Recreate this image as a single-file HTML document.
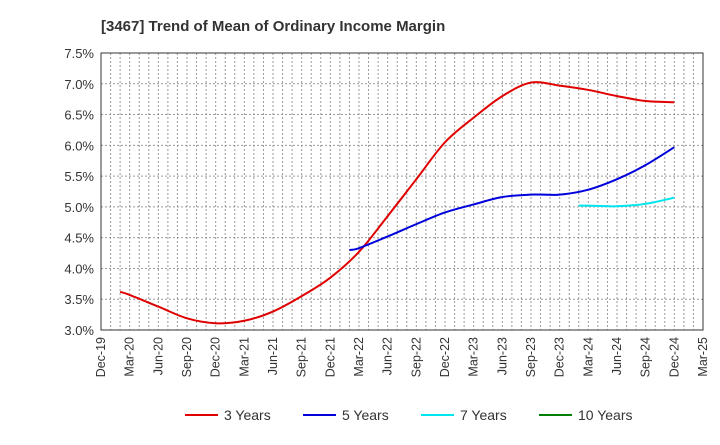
<!DOCTYPE html>
<html><head><meta charset="utf-8"><style>
body{margin:0;background:#fff;font-family:"Liberation Sans",Arial,sans-serif}
</style></head><body>
<svg id="c" width="720" height="440" xmlns="http://www.w3.org/2000/svg">
<text x="101" y="31" font-size="15" font-weight="bold" fill="#333">[3467]  Trend of Mean of Ordinary Income Margin</text>
<g id="grid"></g><g id="axes"></g><g id="series"></g><g id="legend"></g>
</svg>
<script>
const xLabels=["Dec-19","Mar-20","Jun-20","Sep-20","Dec-20","Mar-21","Jun-21","Sep-21","Dec-21","Mar-22","Jun-22","Sep-22","Dec-22","Mar-23","Jun-23","Sep-23","Dec-23","Mar-24","Jun-24","Sep-24","Dec-24","Mar-25"];
const yTicks=[3.0,3.5,4.0,4.5,5.0,5.5,6.0,6.5,7.0,7.5];
// months since Dec-19 of first point; later points every 3 months starting next month
const s3Start=2;
const s3=[3.62,3.57,3.38,3.19,3.11,3.15,3.30,3.55,3.85,4.27,4.85,5.45,6.05,6.45,6.80,7.02,6.97,6.90,6.80,6.72,6.70];
const s5Start=26;
const s5=[4.30,4.33,4.52,4.72,4.91,5.04,5.16,5.20,5.20,5.28,5.45,5.68,5.97];
const s7Start=50;
const s7=[5.02,5.02,5.01,5.05,5.15];
const s10Start=62;
const s10=[];
const NS="http://www.w3.org/2000/svg";
const L=101,R=703,T=53,B=330;
const XM=m=>L+(R-L)*m/63;
const X=q=>XM(q*3);
const Y=v=>B-(v-3)/(4.5)*(B-T);
function mk(p,tag,a){const e=document.createElementNS(NS,tag);for(const k in a)e.setAttribute(k,a[k]);p.appendChild(e);return e;}
const grid=document.getElementById('grid'),axes=document.getElementById('axes'),ser=document.getElementById('series'),leg=document.getElementById('legend');
for(let m=1;m<63;m++){const x=XM(m);const g=mk(grid,'line',{x1:x,x2:x,y1:T,y2:B,stroke:'#999','stroke-dasharray':'2,2','stroke-width':1});

}
yTicks.forEach(v=>{const y=Y(v);const g=mk(grid,'line',{x1:L,x2:R,y1:y,y2:y,stroke:'#999','stroke-dasharray':'2,2'});


const t=mk(axes,'text',{x:L-7,y:y+5,'text-anchor':'end','font-size':13,fill:'#333'});t.textContent=v.toFixed(1)+'%';

});
xLabels.forEach((lab,i)=>{const x=X(i);const t=mk(axes,'text',{transform:`translate(${x+4},${B+7}) rotate(-90)`,'text-anchor':'end','font-size':12.5,fill:'#333'});t.textContent=lab;

});
const fr=mk(axes,'rect',{x:L,y:T,width:R-L,height:B-T,fill:'none',stroke:'#333','stroke-width':1});


function path(start,vals){const p=vals.map((v,i)=>[XM(i===0?start:start+1+3*(i-1)),Y(v)]);if(p.length<2)return '';let d=`M${p[0][0]},${p[0][1]}`;
for(let i=0;i<p.length-1;i++){const p0=p[i-1]||p[i],p1=p[i],p2=p[i+1],p3=p[i+2]||p2;
d+=` C${p1[0]+(p2[0]-p0[0])/6},${p1[1]+(p2[1]-p0[1])/6} ${p2[0]-(p3[0]-p1[0])/6},${p2[1]-(p3[1]-p1[1])/6} ${p2[0]},${p2[1]}`;}return d;}
[[s3Start,s3,'#e00000','series-3-years'],[s5Start,s5,'#0000dd','series-5-years'],[s7Start,s7,'#00e5ee','series-7-years'],[s10Start,s10,'#008000','series-10-years']].forEach(([st,v,c,n])=>{
const d=path(st,v);if(!d)return;const e=mk(ser,'path',{d,fill:'none',stroke:c,'stroke-width':2});

});
[['3 Years','#e00000',185],['5 Years','#0000dd',303],['7 Years','#00e5ee',421],['10 Years','#008000',539]].forEach(([lab,c,x])=>{
const g=mk(leg,'g',{});


mk(g,'line',{x1:x,x2:x+33,y1:415,y2:415,stroke:c,'stroke-width':2});
const t=mk(g,'text',{x:x+39,y:420,'font-size':14,fill:'#333'});t.textContent=lab;});
</script>
</body></html>
